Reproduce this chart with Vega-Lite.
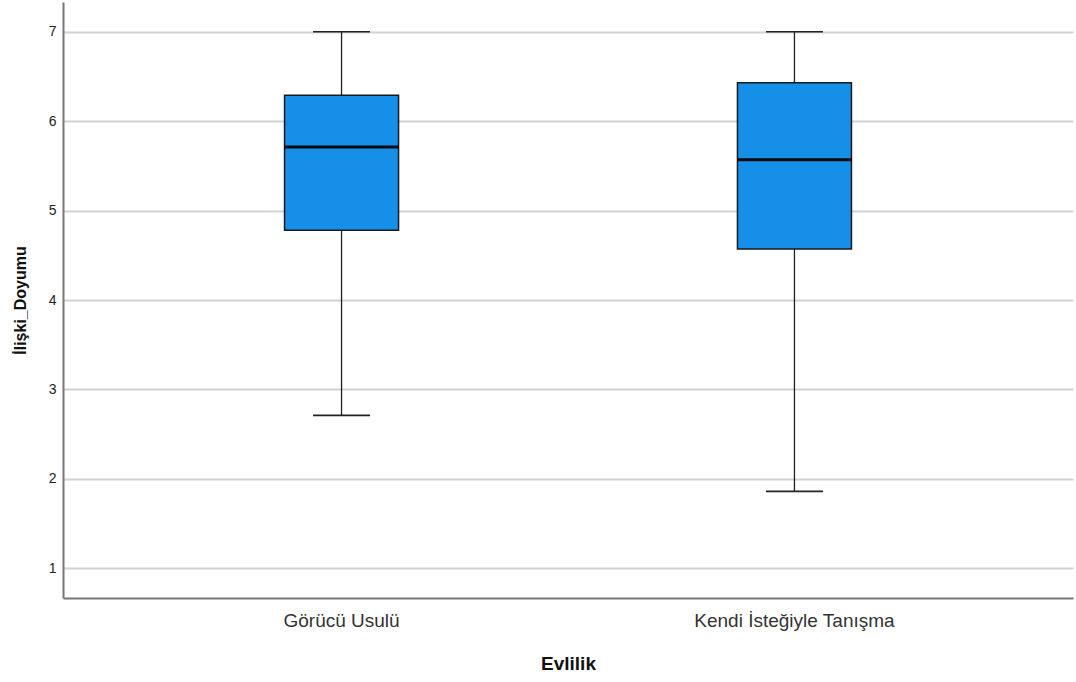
{
  "$schema": "https://vega.github.io/schema/vega-lite/v6.json",
  "autosize": {"type": "none"},
  "padding": {"left": 63, "top": 2, "right": 3, "bottom": 84},
  "width": 1010,
  "height": 596,
  "background": "white",
  "config": {
    "font": "Liberation Sans",
    "view": {"stroke": null},
    "axis": {"labelFont": "Liberation Sans", "titleFont": "Liberation Sans"}
  },
  "data": {
    "values": [
      {"Evlilik": "Görücü Usulü", "min": 2.71, "q1": 4.78, "median": 5.71, "q3": 6.29, "max": 7.0},
      {"Evlilik": "Kendi İsteğiyle Tanışma", "min": 1.86, "q1": 4.57, "median": 5.57, "q3": 6.43, "max": 7.0}
    ]
  },
  "encoding": {
    "x": {
      "field": "Evlilik",
      "type": "nominal",
      "sort": null,
      "scale": {"paddingInner": 0, "paddingOuter": 0.115},
      "axis": {
        "title": "Evlilik",
        "titleFontSize": 19,
        "titleFontWeight": "bold",
        "titleColor": "#111",
        "titlePadding": 24,
        "labelAngle": 0,
        "labelFontSize": 19,
        "labelLimit": 0,
        "labelColor": "#333",
        "labelPadding": 13,
        "ticks": false,
        "domainColor": "#777",
        "domainWidth": 2,
        "grid": false
      }
    }
  },
  "layer": [
    {
      "mark": {"type": "rule", "color": "#222", "strokeWidth": 1.3},
      "encoding": {
        "y": {
          "field": "min",
          "type": "quantitative",
          "scale": {"domain": [0.667, 7.333], "nice": false, "zero": false},
          "axis": {
            "title": "İlişki_Doyumu",
            "titleFontSize": 16,
            "titleFontWeight": "bold",
            "titleColor": "#111",
            "titlePadding": 20,
            "values": [1, 2, 3, 4, 5, 6, 7],
            "format": "d",
            "labelFontSize": 14,
            "labelColor": "#222",
            "labelPadding": 7,
            "ticks": false,
            "domainColor": "#777",
            "domainWidth": 2,
            "grid": true,
            "gridColor": "#d2d2d2",
            "gridWidth": 2
          }
        },
        "y2": {"field": "max"}
      }
    },
    {
      "mark": {"type": "bar", "size": 114, "fill": "#168FE8", "stroke": "#1a1a1a", "strokeWidth": 1.5},
      "encoding": {
        "y": {"field": "q1", "type": "quantitative"},
        "y2": {"field": "q3"}
      }
    },
    {
      "mark": {"type": "tick", "size": 114, "thickness": 3, "color": "#0a0a0a", "opacity": 1},
      "encoding": {"y": {"field": "median", "type": "quantitative"}}
    },
    {
      "mark": {"type": "tick", "size": 57, "thickness": 1.6, "color": "#222", "opacity": 1},
      "encoding": {"y": {"field": "min", "type": "quantitative"}}
    },
    {
      "mark": {"type": "tick", "size": 57, "thickness": 1.6, "color": "#222", "opacity": 1},
      "encoding": {"y": {"field": "max", "type": "quantitative"}}
    }
  ]
}
